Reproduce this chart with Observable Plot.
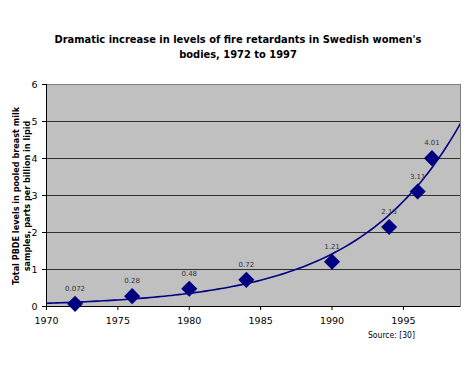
<!DOCTYPE html>
<html><head><meta charset="utf-8">
<script src="https://cdn.jsdelivr.net/npm/d3@7"></script>
<script src="https://cdn.jsdelivr.net/npm/@observablehq/plot@0.6"></script>
<style>
body{margin:0;background:#fff;}
#wrap{position:relative;width:470px;height:380px;}
#title{position:absolute;left:0;top:32px;width:476px;text-align:center;font:bold 11px "DejaVu Sans Condensed","DejaVu Sans",sans-serif;line-height:15px;color:#000;}
.ylab{position:absolute;font:bold 9px "DejaVu Sans Condensed","DejaVu Sans",sans-serif;white-space:nowrap;transform:translate(-50%,-50%) rotate(-90deg);color:#000;}
#src{position:absolute;left:368px;top:330px;font:8.5px "DejaVu Sans Condensed","DejaVu Sans",sans-serif;color:#000;}
</style></head>
<body>
<div id="wrap">
<div id="title">Dramatic increase in levels of fire retardants in Swedish women's<br>bodies, 1972 to 1997</div>
<div class="ylab" style="left:16px;top:196px;">Total PBDE levels in pooled breast milk</div>
<div class="ylab" style="left:27px;top:196px;">samples, parts per billion in lipid</div>
<div id="src">Source: [30]</div>
<div id="chart"></div>
</div>
<script>
const years = [1972, 1976, 1980, 1984, 1990, 1994, 1996, 1997];
const levels = [0.072, 0.28, 0.48, 0.72, 1.21, 2.15, 3.11, 4.01];
const labels = ["0.072", "0.28", "0.48", "0.72", "1.21", "2.15", "3.11", "4.01"];
const xTicks = [1970, 1975, 1980, 1985, 1990, 1995];
const yTicks = [0, 1, 2, 3, 4, 5, 6];

const data = years.map((y, i) => ({year: y, value: levels[i], label: labels[i]}));

// Exponential trendline (least-squares fit on log values, as in the source spreadsheet)
const xm = d3.mean(years), lm = d3.mean(levels, v => Math.log(v));
const k = d3.sum(years, (y, i) => (y - xm) * (Math.log(levels[i]) - lm)) / d3.sum(years, y => (y - xm) ** 2);
const trend = d3.range(1970, 1999.01, 0.25).map(y => ({year: y, value: Math.exp(lm + k * (y - xm))}));

const chart = Plot.plot({
  width: 470, height: 380,
  marginLeft: 46, marginRight: 10, marginTop: 84, marginBottom: 74,
  style: {fontFamily: "'DejaVu Sans', sans-serif", fontSize: "9.5px", color: "#000", background: "transparent"},
  x: {domain: [1970, 1999], ticks: xTicks, tickFormat: d => String(d), label: null},
  y: {domain: [0, 6], ticks: yTicks, tickFormat: d => String(d), label: null},
  marks: [
    Plot.frame({fill: "#c0c0c0", stroke: "#808080", strokeWidth: 1}),
    Plot.gridY([1, 2, 3, 4, 5], {stroke: "#000", strokeOpacity: 0.75, strokeWidth: 1}),
    Plot.axisX({ticks: xTicks, tickSize: 4, tickPadding: 7, tickFormat: d => String(d), stroke: "#000", label: null}),
    Plot.axisY({ticks: yTicks, tickSize: 4, tickPadding: 5, tickFormat: d => String(d), stroke: "#000", label: null}),
    Plot.ruleX([1970], {stroke: "#000"}),
    Plot.ruleY([0], {stroke: "#000"}),
    Plot.line(trend, {x: "year", y: "value", stroke: "#000080", strokeWidth: 1.6, clip: true}),
    Plot.dot(data, {x: "year", y: "value", symbol: "diamond2", r: 6.3, fill: "#000080", stroke: "#000080"}),
    Plot.text(data, {x: "year", y: "value", text: "label", dy: -15, fontSize: 7, fill: "#333"})
  ]
});
document.getElementById("chart").appendChild(chart);
</script>
</body></html>
